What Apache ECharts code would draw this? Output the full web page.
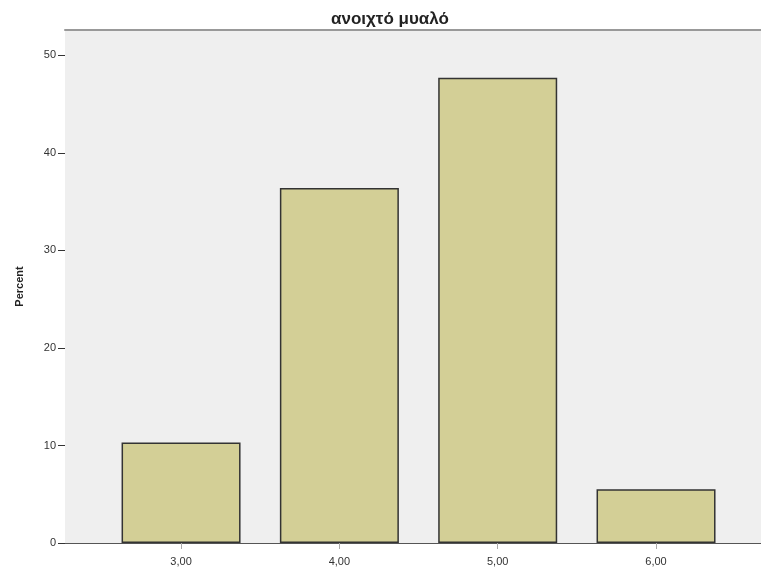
<!DOCTYPE html>
<html>
<head>
<meta charset="utf-8">
<script src="https://cdn.jsdelivr.net/npm/echarts@6/dist/echarts.min.js"></script>
<style>
html,body{margin:0;padding:0;background:#fff;}
#chart{width:761px;height:572px;}
</style>
</head>
<body>
<div id="chart"></div>
<script>
var title = 'ανοιχτό μυαλό';
var yName = 'Percent';
var categories = ['3,00', '4,00', '5,00', '6,00'];
var positions = [3, 4, 5, 6];
var percents = [10.3, 36.4, 47.7, 5.5];
var yTicks = [0, 10, 20, 30, 40, 50];

var chart = echarts.init(document.getElementById('chart'));
chart.setOption({
  animation: false,
  backgroundColor: '#ffffff',
  title: {
    text: title,
    left: 385,
    top: 6,
    textAlign: 'center',
    textStyle: {fontFamily: 'Liberation Sans, Arial, sans-serif', fontSize: 17, fontWeight: 'bold', color: '#222'}
  },
  grid: {
    left: 65, right: 0, top: 30, bottom: 29,
    show: true, backgroundColor: '#efefef', borderWidth: 0
  },
  xAxis: [{
    type: 'value',
    min: 2.267, max: 6.663,
    splitLine: {show: false},
    axisLine: {show: true, lineStyle: {color: '#555', width: 1}},
    axisTick: {show: true, customValues: positions, length: 6, lineStyle: {color: '#aaa'}},
    axisLabel: {
      customValues: positions,
      formatter: function (v) { var i = positions.indexOf(v); return i >= 0 ? categories[i] : ''; },
      fontFamily: 'Liberation Sans, Arial, sans-serif', fontSize: 11, color: '#333', margin: 13
    }
  }, {
    type: 'value', position: 'top',
    min: 2.267, max: 6.663,
    splitLine: {show: false},
    axisLine: {show: true, lineStyle: {color: '#999', width: 2}},
    axisTick: {show: false},
    axisLabel: {show: false}
  }],
  yAxis: {
    type: 'value',
    min: 0, max: 52.6,
    name: yName,
    nameLocation: 'middle',
    nameGap: 40,
    nameTextStyle: {fontFamily: 'Liberation Sans, Arial, sans-serif', fontSize: 11, fontWeight: 'bold', color: '#222'},
    splitLine: {show: false},
    axisLine: {show: false},
    axisTick: {show: true, customValues: yTicks, length: 7, lineStyle: {color: '#333'}},
    axisLabel: {customValues: yTicks, fontFamily: 'Liberation Sans, Arial, sans-serif', fontSize: 11, color: '#333', margin: 9}
  },
  series: [{
    type: 'bar',
    xAxisIndex: 0,
    barWidth: 119,
    data: positions.map(function (p, i) { return [p, percents[i]]; }),
    itemStyle: {color: '#d3cf96', borderColor: '#333', borderWidth: 1.5}
  }]
});
</script>
</body>
</html>
